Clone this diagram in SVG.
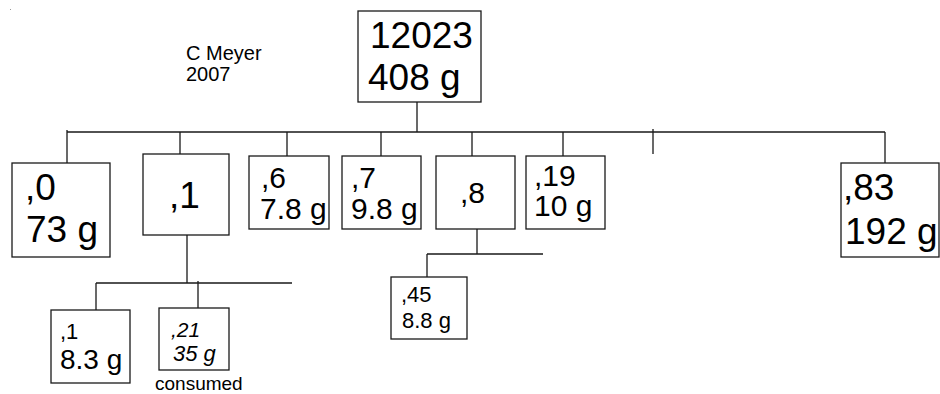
<svg xmlns="http://www.w3.org/2000/svg" width="940" height="394" viewBox="0 0 940 394">
<style>
.box{fill:#fff;stroke:#1a1a1a;stroke-width:1.3}
.ln{fill:none;stroke:#1a1a1a;stroke-width:1.3}
text{font-family:"Liberation Sans",Arial,sans-serif;fill:#000}
.xl{font-size:37px}
.md{font-size:30px}
.it{font-style:italic}
</style>
<rect x="10" y="9" width="1" height="1" fill="#999"/>
<g id="connectors">
<path class="ln" d="M417 102V132M67 132H885M67 130V163M180 132V154M287 132V156M381 132V156M472 132V156M563 132V156M653 129V154M885 132V163"/>
<path class="ln" d="M187 235V283M96 283H292M96 283V310M198 281V308"/>
<path class="ln" d="M477 229V254M427 254H543M427 254V277"/>
</g>
<g id="author">
<text x="186" y="60" font-size="20">C Meyer</text>
<text x="186" y="81" font-size="20">2007</text>
</g>
<g id="n12023">
<rect class="box" x="358" y="11" width="123" height="91"/>
<text class="xl" x="370" y="48">12023</text>
<text class="xl" x="368" y="90">408 g</text>
</g>
<g id="n0">
<rect class="box" x="12" y="163" width="98" height="94"/>
<text class="xl" x="25" y="200">,0</text>
<text class="xl" x="26" y="242">73 g</text>
</g>
<g id="n1">
<rect class="box" x="143" y="154" width="86" height="81"/>
<text class="xl" x="169" y="208">,1</text>
</g>
<g id="n6">
<rect class="box" x="249" y="156" width="80" height="73"/>
<text class="md" x="261" y="188">,6</text>
<text class="md" x="260" y="219">7.8 g</text>
</g>
<g id="n7">
<rect class="box" x="342" y="156" width="79" height="73"/>
<text class="md" x="351" y="188">,7</text>
<text class="md" x="351" y="219">9.8 g</text>
</g>
<g id="n8">
<rect class="box" x="436" y="156" width="79" height="73"/>
<text class="md" x="460" y="203">,8</text>
</g>
<g id="n19">
<rect class="box" x="526" y="156" width="79" height="73"/>
<text class="md" x="534" y="186">,19</text>
<text class="md" x="534" y="216">10 g</text>
</g>
<g id="n83">
<rect class="box" x="841" y="163" width="98" height="94"/>
<text class="xl" x="843" y="200">,83</text>
<text class="xl" x="845" y="244">192 g</text>
</g>
<g id="n1_1">
<rect class="box" x="51" y="310" width="79" height="73"/>
<text x="60" y="339" font-size="22">,1</text>
<text x="60" y="369" font-size="28">8.3 g</text>
</g>
<g id="n21">
<rect class="box" x="159" y="308" width="70" height="62"/>
<text class="it" x="171" y="337" font-size="21">,21</text>
<text class="it" x="173" y="361" font-size="22">35 g</text>
<text x="155" y="390" font-size="19">consumed</text>
</g>
<g id="n45">
<rect class="box" x="391" y="277" width="76" height="62"/>
<text x="401" y="302" font-size="22">,45</text>
<text x="402" y="328" font-size="22">8.8 g</text>
</g>
</svg>
